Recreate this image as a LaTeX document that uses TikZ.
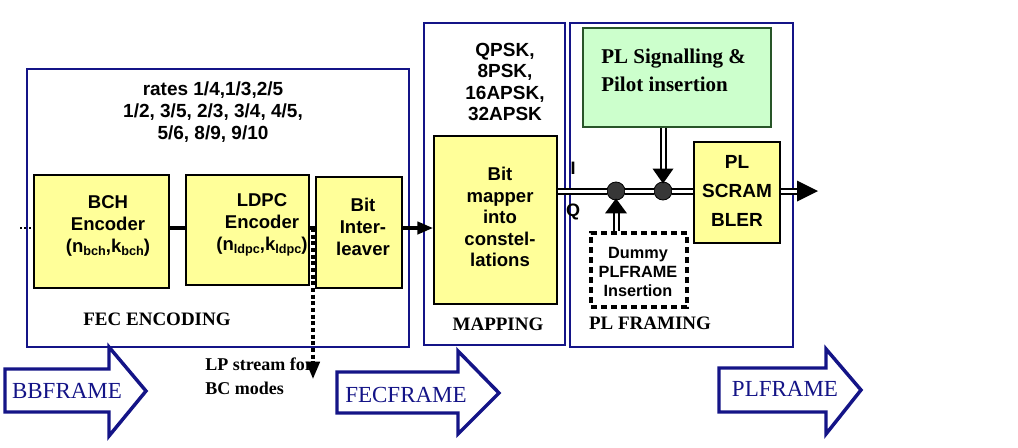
\documentclass[tikz,border=0pt]{standalone}
\usepackage{fontspec}
\setmainfont{Liberation Serif}
\newfontfamily\arial{Liberation Sans}
\usetikzlibrary{fit,arrows.meta}
\definecolor{navy}{RGB}{20,20,135}
\definecolor{yfill}{RGB}{255,255,153}
\definecolor{gfill}{RGB}{204,255,204}
\definecolor{gline}{RGB}{40,85,40}
\definecolor{dotfill}{RGB}{55,55,55}
\newcommand\sbs[1]{\raisebox{-0.3ex}{\fontsize{9.5}{9.5}\selectfont #1}}
\begin{document}
\begin{tikzpicture}[x=0.75pt,y=-0.75pt,
  frame/.style={draw=navy, line width=1.2pt, inner sep=0pt},
  ybox/.style={draw=black, line width=1pt, fill=yfill, inner sep=0pt},
  gbox/.style={draw=gline, line width=1.1pt, fill=gfill, inner sep=0pt},
  dbox/.style={draw=black, line width=3pt, dash pattern=on 4.5pt off 3pt, inner sep=0pt},
  sans/.style={font=\arial\bfseries\fontsize{13.9}{16.5}\selectfont, align=center, inner sep=0pt},
  serifb/.style={font=\bfseries\fontsize{14.25}{17}\selectfont, inner sep=0pt},
  blk/.style={font=\fontsize{17.25}{20}\selectfont, text=navy, inner sep=0pt},
  barrow/.style={draw=navy, line width=2.6pt, line join=miter, fill=white},
  conn/.style={line width=3pt},
  dbl/.style={draw=black, line width=1.5pt, double=white, double distance=2.25pt},
  junction/.style={circle, fill=dotfill, draw=black, line width=0.6pt, minimum size=13.5pt, inner sep=0pt}
]
\useasboundingbox (0,0) rectangle (1018,447);

% frames
\node[frame, fit={(27,69)(409,347)}] (fec) {};
\node[frame, fit={(424,23)(565,345)}] (map) {};
\node[frame, fit={(570,23)(793,347)}] (plf) {};

% boxes
\node[gbox, fit={(583,28)(771,127)}] (green) {};
\node[ybox, fit={(34,175)(169,288)}] (bch) {};
\node[ybox, fit={(186,175)(309,285)}] (ldpc) {};
\node[ybox, fit={(316,177)(402,288)}] (ilv) {};
\node[ybox, fit={(434,136)(557,304)}] (mapper) {};
\node[ybox, fit={(694,142)(780,243)}] (scr) {};
\node[dbox, fit={(591,233)(687,307)}] (dummy) {};

% texts
\node[sans, font=\arial\bfseries\fontsize{14.25}{16.5}\selectfont] (rates) at (213,112) {rates 1/4,1/3,2/5\\1/2, 3/5, 2/3, 3/4, 4/5,\\5/6, 8/9, 9/10};
\node[sans] (bcht) at (108,226) {BCH\\Encoder\\(n\sbs{bch},k\sbs{bch})};
\node[sans] (ldpct) at (262,225) {LDPC\\Encoder\\(n\sbs{ldpc},k\sbs{ldpc})};
\node[sans] (ilvt) at (363,227) {Bit\\Inter-\\leaver};
\node[sans, font=\arial\bfseries\fontsize{13.9}{16.1}\selectfont] (mappert) at (500,217) {Bit\\mapper\\into\\constel-\\lations};
\node[sans, font=\arial\bfseries\fontsize{14.25}{16}\selectfont] (qpsk) at (505,82) {QPSK,\\8PSK,\\16APSK,\\32APSK};
\node[serifb, font=\bfseries\fontsize{15.75}{21}\selectfont, align=left, anchor=west] (greent) at (601,70) {PL Signalling \&\\Pilot insertion};
\node[sans, font=\arial\bfseries\fontsize{14.25}{21.75}\selectfont] (scrt) at (737,191) {PL\\SCRAM\\BLER};
\node[sans, font=\arial\bfseries\fontsize{12.2}{14.6}\selectfont] (dummyt) at (638,272) {Dummy\\PLFRAME\\Insertion};
\node[sans, font=\arial\bfseries\fontsize{13.5}{16}\selectfont] (ilab) at (573,168) {I};
\node[sans, font=\arial\bfseries\fontsize{13.5}{16}\selectfont] (qlab) at (573,212) {Q};
\node[serifb] (fect) at (157,319) {FEC ENCODING};
\node[serifb] (mapt) at (498,324) {MAPPING};
\node[serifb] (plft) at (650,323) {PL FRAMING};

% connectors
\coordinate (inp) at (20,228);
\coordinate (axis) at (0,228);
\coordinate (tap) at (313,228);
\draw[dotted, line width=1.3pt] (inp) -- (bch.west |- inp);
\draw[conn] (bch.east |- axis) -- (ldpc.west |- axis);
\draw[conn] (ldpc.east |- axis) -- (ilv.west |- axis);
\draw[conn, -{Triangle[length=12pt,width=9pt]}] (ilv.east |- axis) -- (mapper.west |- axis);
\draw[line width=2.6pt, dash pattern=on 3pt off 2pt, -{Triangle[length=13pt,width=10pt]}] (tap) -- (tap |- 0,379);

% I/Q path
\node[junction] (c1) at (616,191) {};
\node[junction] (c2) at (663,191) {};
\coordinate (out) at (818,191);
\begin{scope}[on background layer/.style={}]
\end{scope}
\draw[dbl] (c1 -| mapper.east) -- (c1.west);
\draw[dbl] (c1.east) -- (c2.west);
\draw[dbl] (c2.east) -- (c2 -| scr.west);
\draw[dbl] (c2 -| scr.east) -- ([xshift=-15.75pt]out);
\fill (out) -- ++(-21,-10.5) -- ++(0,21) -- cycle;
\draw[dbl] (green.south -| c2) -- ([yshift=9pt]c2.north);
\fill ([yshift=-1.5pt]c2.north) -- ++(-10.5,-15) -- ++(21,0) -- cycle;
\draw[dbl] (dummy.north -| c1) -- ([yshift=-9.75pt]c1.south);
\fill ([yshift=1.5pt]c1.south) -- ++(-11,15) -- ++(22,0) -- cycle;

% LP stream label
\node[serifb, font=\bfseries\fontsize{13.5}{18}\selectfont, align=left, anchor=west] (lp) at (205,376) {LP stream for\\BC modes};

% block arrows
\draw[barrow] (5,369) -- (109,369) -- (109,347) -- (146,391) -- (109,436) -- (109,412) -- (5,412) -- cycle;
\draw[barrow] (337,372) -- (458,372) -- (458,351) -- (499,393) -- (458,434) -- (458,413) -- (337,413) -- cycle;
\draw[barrow] (719,368) -- (826,368) -- (826,349) -- (861,390) -- (826,434) -- (826,412) -- (719,412) -- cycle;
\node[blk] (bbf) at (67,391) {BBFRAME};
\node[blk] (fecf) at (406,395) {FECFRAME};
\node[blk] (plfr) at (785,389) {PLFRAME};
\end{tikzpicture}
\end{document}
